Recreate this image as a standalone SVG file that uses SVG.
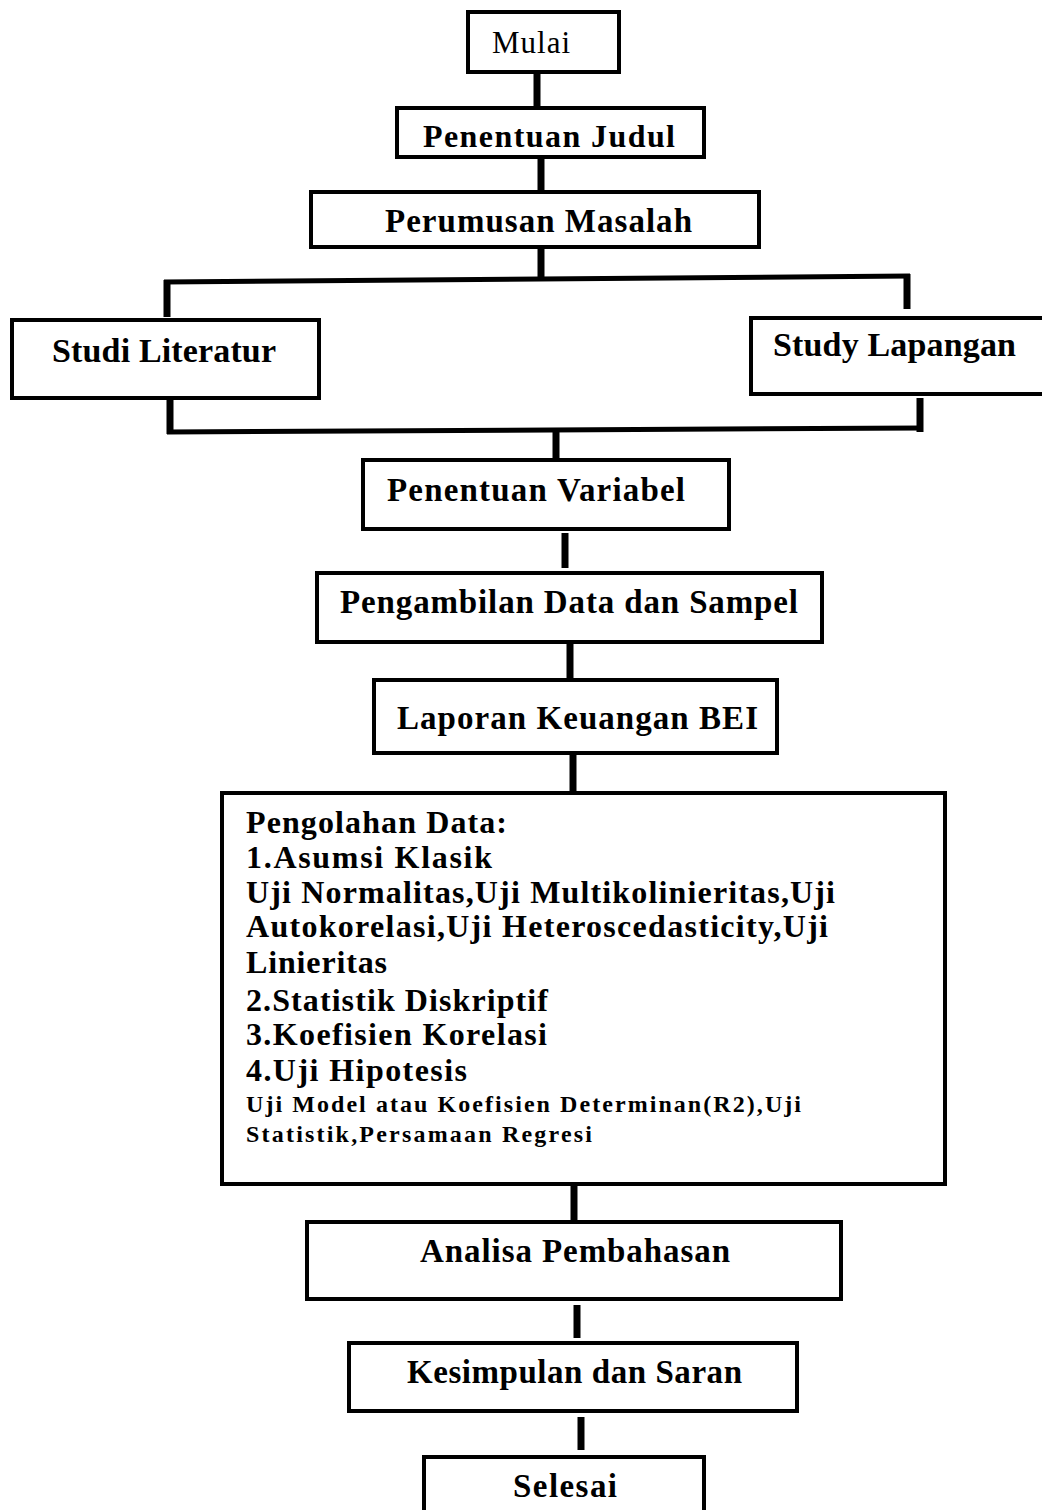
<svg xmlns="http://www.w3.org/2000/svg" width="1042" height="1510" viewBox="0 0 1042 1510">
<style>
.box{fill:#fff;stroke:#000;stroke-width:4}
.t{font-family:"Liberation Serif","Times New Roman",serif;font-weight:bold;fill:#000}
.r{font-family:"Liberation Serif","Times New Roman",serif;font-weight:normal;fill:#000}
.c{stroke:#000;stroke-width:7;fill:none}
.h{stroke:#000;stroke-width:5;fill:none}
</style>
<rect width="1042" height="1510" fill="#fff"/>
<g id="connectors">
<line class="c" x1="537" y1="72" x2="537" y2="108"/>
<line class="c" x1="541" y1="158" x2="541" y2="192"/>
<line class="c" x1="541" y1="248" x2="541" y2="279"/>
<line class="h" x1="164" y1="282" x2="910" y2="276"/>
<line class="c" x1="167" y1="280" x2="167" y2="317"/>
<line class="c" x1="907" y1="274" x2="907" y2="309"/>
<line class="c" x1="170" y1="398" x2="170" y2="434"/>
<line class="c" x1="920" y1="398" x2="920" y2="432"/>
<line class="h" x1="167" y1="432" x2="923" y2="428"/>
<line class="c" x1="556" y1="428" x2="556" y2="460"/>
<line class="c" x1="565" y1="533" x2="565" y2="568"/>
<line class="c" x1="570" y1="643" x2="570" y2="679"/>
<line class="c" x1="573" y1="754" x2="573" y2="793"/>
<line class="c" x1="574" y1="1185" x2="574" y2="1222"/>
<line class="c" x1="577" y1="1305" x2="577" y2="1338"/>
<line class="c" x1="581" y1="1417" x2="581" y2="1450"/>
</g>
<g id="mulai"><rect class="box" x="468" y="12" width="151" height="60"/><text class="r" x="492" y="53" font-size="31" textLength="78">Mulai</text></g>
<g id="judul"><rect class="box" x="397" y="108" width="307" height="49"/><text class="t" x="423" y="147" font-size="32" textLength="252">Penentuan Judul</text></g>
<g id="perumusan"><rect class="box" x="311" y="192" width="448" height="55"/><text class="t" x="385" y="232" font-size="33" textLength="307">Perumusan Masalah</text></g>
<g id="literatur"><rect class="box" x="12" y="320" width="307" height="78"/><text class="t" x="52" y="362" font-size="34" textLength="224">Studi Literatur</text></g>
<g id="lapangan"><rect class="box" x="751" y="318" width="300" height="76"/><text class="t" x="773" y="356" font-size="34" textLength="243">Study Lapangan</text></g>
<g id="variabel"><rect class="box" x="363" y="460" width="366" height="69"/><text class="t" x="387" y="501" font-size="33" textLength="298">Penentuan Variabel</text></g>
<g id="pengambilan"><rect class="box" x="317" y="573" width="505" height="69"/><text class="t" x="340" y="613" font-size="33" textLength="458">Pengambilan Data dan Sampel</text></g>
<g id="laporan"><rect class="box" x="374" y="680" width="403" height="73"/><text class="t" x="397" y="729" font-size="33" textLength="361">Laporan Keuangan BEI</text></g>
<g id="pengolahan"><rect class="box" x="222" y="793" width="723" height="391"/>
<text class="t" x="246" y="833" font-size="32" textLength="261">Pengolahan Data:</text>
<text class="t" x="246" y="868" font-size="32" textLength="246">1.Asumsi Klasik</text>
<text class="t" x="246" y="903" font-size="32" textLength="589">Uji Normalitas,Uji Multikolinieritas,Uji</text>
<text class="t" x="246" y="937" font-size="32" textLength="582">Autokorelasi,Uji Heteroscedasticity,Uji</text>
<text class="t" x="246" y="973" font-size="32" textLength="141">Linieritas</text>
<text class="t" x="246" y="1011" font-size="32" textLength="302">2.Statistik Diskriptif</text>
<text class="t" x="246" y="1045" font-size="32" textLength="301">3.Koefisien Korelasi</text>
<text class="t" x="246" y="1081" font-size="32" textLength="221">4.Uji Hipotesis</text>
<text class="t" x="246" y="1112" font-size="24" textLength="555">Uji Model atau Koefisien Determinan(R2),Uji</text>
<text class="t" x="246" y="1142" font-size="24" textLength="346">Statistik,Persamaan Regresi</text>
</g>
<g id="analisa"><rect class="box" x="307" y="1222" width="534" height="77"/><text class="t" x="420" y="1262" font-size="33" textLength="310">Analisa Pembahasan</text></g>
<g id="kesimpulan"><rect class="box" x="349" y="1343" width="448" height="68"/><text class="t" x="407" y="1383" font-size="33" textLength="335">Kesimpulan dan Saran</text></g>
<g id="selesai"><rect class="box" x="424" y="1457" width="280" height="70"/><text class="t" x="513" y="1497" font-size="33" textLength="104">Selesai</text></g>
</svg>
